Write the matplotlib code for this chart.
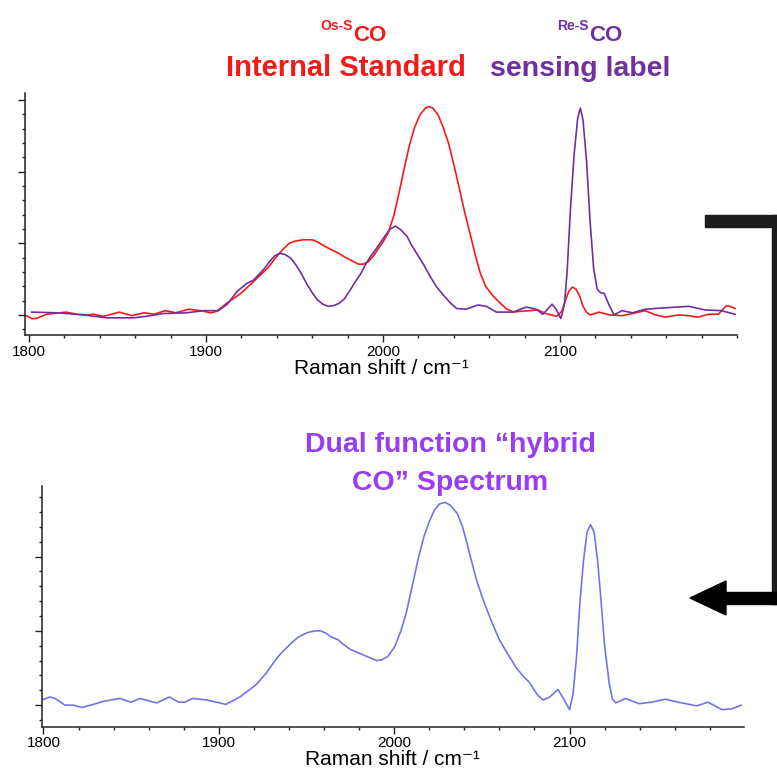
import matplotlib
matplotlib.use("Agg")
import matplotlib.pyplot as plt
from matplotlib.patches import Rectangle, Polygon
from matplotlib.ticker import MultipleLocator, NullFormatter

plt.rcParams['font.family'] = ['Liberation Sans', 'DejaVu Sans']

# ---------------- data ----------------
# Os-SCO (internal standard), top panel, red
os_x = [1797.7, 1801.5, 1804, 1810, 1821, 1827, 1833, 1836.5, 1842, 1851, 1858, 1865, 1870.5,
        1877, 1883, 1890, 1897, 1902.6, 1906, 1912, 1919.6, 1927, 1935, 1940, 1944, 1947, 1950,
        1955, 1960, 1963, 1967, 1971, 1975, 1979, 1983, 1986, 1989, 1992, 1995, 1998,
        2000, 2003, 2006, 2009, 2012, 2015, 2018, 2021, 2024, 2026, 2028, 2031, 2034, 2037,
        2040, 2043, 2046, 2049, 2052, 2055, 2058, 2062, 2066, 2070, 2074,
        2077, 2083, 2087.5, 2092, 2098, 2101, 2103, 2105, 2107, 2109, 2111, 2113, 2115, 2117,
        2122, 2128, 2135, 2141, 2148, 2154, 2159.5, 2167, 2172.7,
        2178, 2184, 2189.5, 2194, 2196, 2199]
os_y = [0.0, -0.05, -0.05, 0.01, 0.04, 0.01, 0.0, 0.01, -0.02, 0.04, -0.01, 0.03, 0.01,
        0.06, 0.03, 0.08, 0.06, 0.03, 0.05, 0.17, 0.30, 0.47, 0.66, 0.82, 0.93, 1.00, 1.03,
        1.05, 1.05, 1.02, 0.96, 0.91, 0.86, 0.80, 0.75, 0.71, 0.71, 0.75, 0.84, 0.95,
        1.02, 1.15, 1.38, 1.70, 2.05, 2.38, 2.63, 2.80, 2.89, 2.91, 2.89, 2.80, 2.62, 2.40,
        2.10, 1.78, 1.45, 1.15, 0.85, 0.58, 0.40, 0.27, 0.17, 0.08, 0.04,
        0.05, 0.06, 0.07, 0.02, -0.02, 0.05, 0.20, 0.33, 0.39, 0.36, 0.27, 0.12, 0.04, 0.0,
        0.04, 0.0, -0.01, 0.02, 0.06, 0.0, -0.03, 0.0, -0.01,
        -0.03, 0.01, 0.01, 0.13, 0.12, 0.09]

# Re-SCO (sensing label), top panel, purple
re_x = [1801.3, 1816, 1831, 1844, 1859, 1866, 1876, 1889, 1898.8, 1907, 1912, 1917.6, 1923,
        1927, 1930, 1933, 1936, 1939, 1942, 1945, 1948, 1951, 1954, 1957, 1960, 1963, 1966,
        1969, 1972, 1975, 1978, 1981, 1984, 1987.5, 1990, 1993, 1996,
        2001, 2004, 2007, 2010, 2013.5, 2016, 2019, 2023, 2026.6, 2030, 2034, 2038, 2041.6,
        2047, 2053.7, 2058.4, 2064, 2073.4, 2081, 2086.5, 2090.3, 2095.5, 2097.8, 2100.5,
        2102.5, 2104, 2106, 2108, 2110, 2111.5, 2113, 2115, 2117, 2119, 2121, 2123, 2125,
        2127.7, 2130.5, 2135, 2141, 2148, 2159.5, 2172.7, 2182, 2191, 2199]
re_y = [0.04, 0.03, 0.0, -0.04, -0.04, -0.02, 0.02, 0.03, 0.06, 0.06, 0.15, 0.33, 0.44,
        0.49, 0.57, 0.65, 0.75, 0.83, 0.86, 0.84, 0.79, 0.69, 0.57, 0.43, 0.31, 0.21, 0.15,
        0.12, 0.13, 0.16, 0.22, 0.33, 0.45, 0.58, 0.70, 0.82, 0.92,
        1.10, 1.20, 1.24, 1.19, 1.10, 0.98, 0.86, 0.70, 0.54, 0.40, 0.28, 0.17, 0.09,
        0.08, 0.14, 0.12, 0.04, 0.04, 0.11, 0.08, 0.01, 0.15, 0.08, -0.05,
        0.15, 0.60, 1.52, 2.25, 2.75, 2.89, 2.72, 2.15, 1.30, 0.65, 0.36, 0.31, 0.30,
        0.14, 0.0, 0.06, 0.03, 0.08, 0.10, 0.12, 0.07, 0.06, 0.01]

# Hybrid CO spectrum, bottom panel
hy_x = [1799, 1803.8, 1806.6, 1812.3, 1817, 1822, 1828.5, 1834, 1843.6, 1850, 1855, 1864.5,
        1872, 1877, 1880.6, 1885, 1893, 1898.7, 1904, 1912, 1921, 1927, 1930, 1933, 1936,
        1939, 1942, 1945, 1948, 1951, 1955, 1958, 1961, 1964, 1968, 1971, 1975, 1980, 1985,
        1990, 1993, 1996.6, 2000.4, 2004, 2007, 2011, 2014, 2017, 2020, 2023, 2026, 2029,
        2032, 2036, 2039, 2041.5, 2044, 2047, 2050, 2053, 2056, 2060, 2065, 2070, 2074, 2077,
        2080, 2082, 2085, 2088.7, 2093.4, 2096, 2100, 2102, 2104, 2106, 2108, 2110, 2112,
        2114, 2116, 2118, 2120, 2122.6, 2124.5, 2126.4, 2132, 2139.6, 2147, 2154.7, 2162,
        2172.6, 2179, 2186.8, 2192.5, 2198]
hy_y = [0.07, 0.11, 0.09, 0.0, 0.0, -0.03, 0.01, 0.05, 0.09, 0.04, 0.09, 0.03,
        0.11, 0.04, 0.04, 0.09, 0.07, 0.04, 0.01, 0.11, 0.27, 0.43, 0.53, 0.63, 0.71,
        0.78, 0.85, 0.91, 0.95, 0.98, 1.00, 1.00, 0.97, 0.92, 0.88, 0.82, 0.75, 0.70, 0.65,
        0.60, 0.61, 0.66, 0.79, 1.01, 1.25, 1.68, 2.00, 2.27, 2.47, 2.63, 2.71, 2.73,
        2.69, 2.58, 2.40, 2.18, 1.95, 1.68, 1.47, 1.28, 1.10, 0.88, 0.68, 0.49, 0.38, 0.31,
        0.20, 0.13, 0.07, 0.11, 0.21, 0.11, -0.06, 0.15, 0.65, 1.40, 1.95, 2.33, 2.43,
        2.33, 1.95, 1.40, 0.80, 0.30, 0.08, 0.03, 0.09, 0.02, 0.04, 0.08, 0.04,
        -0.01, 0.04, -0.06, -0.05, 0.0]

x_ticks = [1800, 1900, 2000, 2100]
x_tick_labels = ['1800', '1900', '2000', '2100']

RED = '#f41a1a'
PURPLE = '#7030a0'
VIOLET = '#9a3cf2'
BLUE = '#7474ea'

W, H = 777, 776
fig = plt.figure(figsize=(W / 100, H / 100), dpi=100)


def px_axes(left, top, right, bottom):
    return fig.add_axes([left / W, 1 - bottom / H, (right - left) / W, (bottom - top) / H])


def style(ax):
    for s in ['top', 'right']:
        ax.spines[s].set_visible(False)
    for s in ['left', 'bottom']:
        ax.spines[s].set_linewidth(1.1)
        ax.spines[s].set_color('#222222')
    ax.set_xticks(x_ticks)
    ax.set_xticklabels(x_tick_labels)
    ax.xaxis.set_minor_locator(MultipleLocator(20))
    ax.yaxis.set_major_locator(MultipleLocator(1))
    ax.yaxis.set_minor_locator(MultipleLocator(0.2))
    ax.yaxis.set_major_formatter(NullFormatter())
    ax.tick_params(axis='both', which='major', direction='out', length=5, width=1.0,
                   color='#222222', labelsize=11, pad=2)
    ax.tick_params(axis='both', which='minor', direction='out', length=2.5, width=1.0,
                   color='#222222')
    ax.set_xlabel('Raman shift / cm⁻¹', fontsize=15, labelpad=0)


LINE = dict(lw=1.2, solid_joinstyle='round', solid_capstyle='round')

# top panel
ax1 = px_axes(25, 93, 737, 335)
ax1.plot(os_x, os_y, color=RED, **LINE)
ax1.plot(re_x, re_y, color=PURPLE, **LINE)
ax1.set_xlim(1797.7, 2200)
ax1.set_ylim(-0.28, 3.1)
style(ax1)

# bottom panel
ax2 = px_axes(41.7, 486, 744, 726.7)
ax2.plot(hy_x, hy_y, color=BLUE, **LINE)
ax2.set_xlim(1799, 2199.5)
ax2.set_ylim(-0.29, 2.95)
style(ax2)


def fy(py):
    return 1 - py / H


def fx(px):
    return px / W


# titles
fig.text(fx(353), fy(30), 'Os-S', color=RED, fontsize=10, fontweight='bold', ha='right', va='baseline')
fig.text(fx(353), fy(40.7), 'CO', color=RED, fontsize=16, fontweight='bold', ha='left', va='baseline')
fig.text(fx(346), fy(76), 'Internal Standard', color=RED, fontsize=21, fontweight='bold',
         ha='center', va='baseline')
fig.text(fx(589), fy(30), 'Re-S', color=PURPLE, fontsize=10, fontweight='bold', ha='right', va='baseline')
fig.text(fx(589), fy(40.7), 'CO', color=PURPLE, fontsize=16, fontweight='bold', ha='left', va='baseline')
fig.text(fx(580), fy(76), 'sensing label', color=PURPLE, fontsize=20.5, fontweight='bold',
         ha='center', va='baseline')
fig.text(fx(450), fy(451.7), 'Dual function “hybrid', color=VIOLET, fontsize=20.5,
         fontweight='bold', ha='center', va='baseline')
fig.text(fx(450), fy(490), 'CO” Spectrum', color=VIOLET, fontsize=20.5,
         fontweight='bold', ha='center', va='baseline')

# bracket arrow
DARK = '#1c1c1c'
tf = fig.transFigure
fig.patches.append(Rectangle((fx(705), fy(226.7)), fx(777) - fx(705), fy(215) - fy(226.7),
                             transform=tf, color=DARK))
fig.patches.append(Rectangle((fx(771.7), fy(604)), fx(780) - fx(771.7), fy(215) - fy(604),
                             transform=tf, color=DARK))
fig.patches.append(Rectangle((fx(724), fy(604)), fx(780) - fx(724), fy(592) - fy(604),
                             transform=tf, color='black'))
fig.patches.append(Polygon([(fx(690), fy(598)), (fx(726), fy(581)), (fx(726), fy(615))],
                           closed=True, transform=tf, color='black'))

fig.savefig('out.png', dpi=100)
